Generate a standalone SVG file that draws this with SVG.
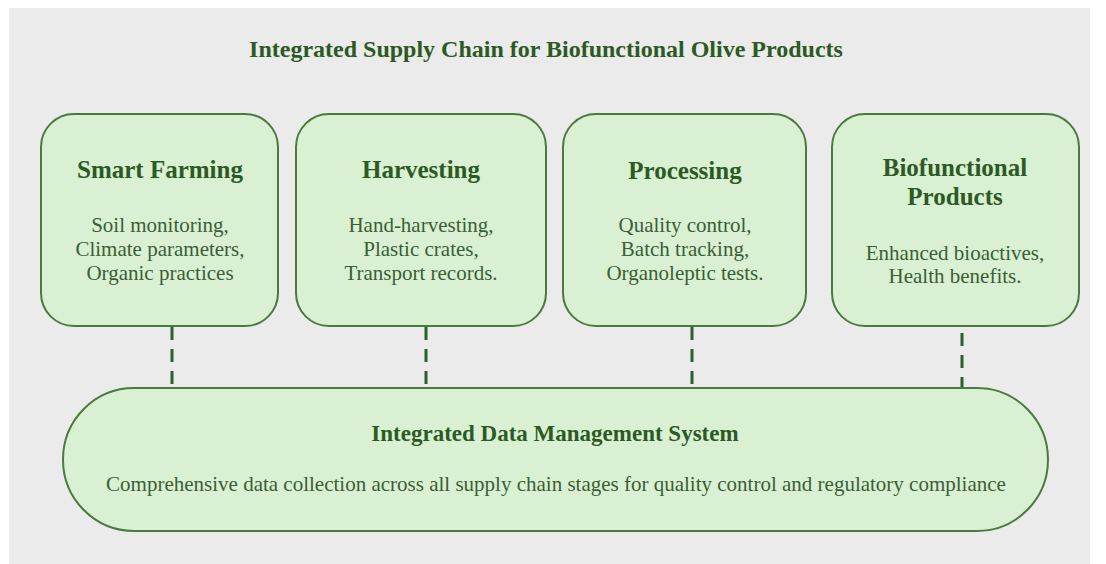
<svg xmlns="http://www.w3.org/2000/svg" width="1106" height="564" viewBox="0 0 1106 564">
  <style>
    .panel { fill: #ebebeb; }
    .node { fill: #d9f0d2; stroke: #4b7a3f; stroke-width: 2; }
    .title { font-family: "Liberation Serif", "Times New Roman", serif; font-weight: bold; fill: #2c5a25; text-anchor: middle; }
    .head { font-family: "Liberation Serif", "Times New Roman", serif; font-weight: bold; font-size: 25px; fill: #2c5a25; text-anchor: middle; }
    .body { font-family: "Liberation Serif", "Times New Roman", serif; font-size: 21px; fill: #3b5e36; text-anchor: middle; }
    .link { stroke: #2a6130; stroke-width: 3; stroke-dasharray: 13 9; fill: none; }
  </style>

  <rect x="0" y="0" width="1106" height="564" fill="#ffffff"/>
  <rect class="panel" x="9" y="8" width="1081" height="556"/>

  <text class="title" x="546" y="57" font-size="24">Integrated Supply Chain for Biofunctional Olive Products</text>

  <!-- dashed links from each stage down to the data system -->
  <g id="connectors">
    <line class="link" x1="172" y1="327" x2="172" y2="384"/>
    <line class="link" x1="426" y1="327" x2="426" y2="384"/>
    <line class="link" x1="692" y1="327" x2="692" y2="401"/>
    <line class="link" x1="962" y1="333" x2="962" y2="390"/>
  </g>

  <g id="smart-farming">
    <rect class="node" x="41" y="114" width="237" height="212" rx="33"/>
    <text class="head" x="160" y="178">Smart Farming</text>
    <text class="body" x="160" y="232">Soil monitoring,</text>
    <text class="body" x="160" y="256">Climate parameters,</text>
    <text class="body" x="160" y="280">Organic practices</text>
  </g>

  <g id="harvesting">
    <rect class="node" x="296" y="114" width="250" height="212" rx="33"/>
    <text class="head" x="421" y="178">Harvesting</text>
    <text class="body" x="421" y="232">Hand-harvesting,</text>
    <text class="body" x="421" y="256">Plastic crates,</text>
    <text class="body" x="421" y="280">Transport records.</text>
  </g>

  <g id="processing">
    <rect class="node" x="563" y="114" width="243" height="212" rx="33"/>
    <text class="head" x="685" y="179">Processing</text>
    <text class="body" x="685" y="232">Quality control,</text>
    <text class="body" x="685" y="256">Batch tracking,</text>
    <text class="body" x="685" y="280">Organoleptic tests.</text>
  </g>

  <g id="biofunctional-products">
    <rect class="node" x="832" y="114" width="247" height="212" rx="33"/>
    <text class="head" x="955" y="176">Biofunctional</text>
    <text class="head" x="955" y="205">Products</text>
    <text class="body" x="955" y="260">Enhanced bioactives,</text>
    <text class="body" x="955" y="283">Health benefits.</text>
  </g>

  <g id="data-management">
    <rect class="node" x="63" y="388" width="985" height="143" rx="71" ry="71.5"/>
    <text class="head" x="555" y="441" font-size="23" style="font-size:23px">Integrated Data Management System</text>
    <text class="body" x="556" y="491">Comprehensive data collection across all supply chain stages for quality control and regulatory compliance</text>
  </g>
</svg>
